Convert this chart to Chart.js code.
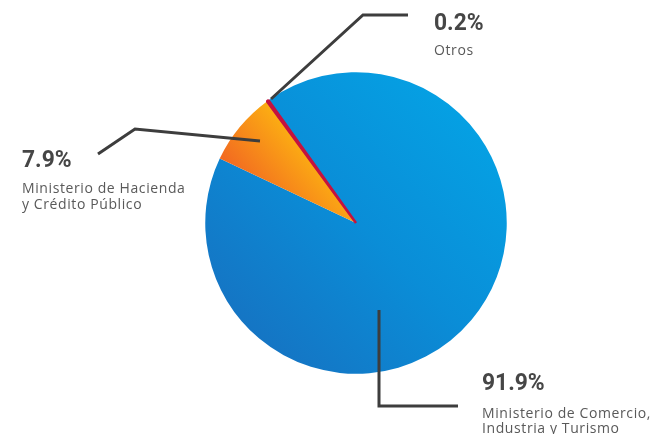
<!DOCTYPE html>
<html>
<head>
<meta charset="utf-8">
<script src="https://cdn.jsdelivr.net/npm/chart.js@4/dist/chart.umd.min.js"></script>
<style>
  html, body { margin: 0; padding: 0; background: #fff; }
  #wrap { width: 667px; height: 434px; position: relative; }
</style>
</head>
<body>
<div id="wrap"><canvas id="chart"></canvas></div>
<script>
// Data
const labels = [
    ['Ministerio de Comercio,', 'Industria y Turismo'],
    ['Ministerio de Hacienda', 'y Crédito Público'],
    ['Otros']
];
const values = [91.9, 7.9, 0.2];
const shares = ['91.9%', '7.9%', '0.2%'];

const INK = '#3d3d3d';

function sliceFill(ctx) {
    const area = ctx.chart.chartArea;
    if (!area) return '#0a8fd8';
    const c = ctx.chart.ctx;
    if (ctx.dataIndex === 0) {
        const g = c.createLinearGradient(area.right, area.top, area.left, area.bottom);
        g.addColorStop(0, '#03a8e8');
        g.addColorStop(0.5, '#0a8dd7');
        g.addColorStop(1, '#196bbc');
        return g;
    }
    if (ctx.dataIndex === 1) {
        const cx = (area.left + area.right) / 2, cy = (area.top + area.bottom) / 2;
        const g = c.createLinearGradient(cx - 60, cy - 120, cx - 130, cy - 60);
        g.addColorStop(0, '#ffc20e');
        g.addColorStop(1, '#f26a21');
        return g;
    }
    return '#c4123f';
}

// leader lines + text
const callouts = {
    id: 'callouts',
    afterDraw(chart) {
        const c = chart.ctx;
        const lines = [
            [[379, 310], [379, 406], [458, 406]],
            [[260, 141], [135, 129], [98, 154]],
            [[271, 99], [363, 15], [408, 15]]
        ];
        // [x, number baseline, first label baseline, line step]
        const textPos = [[482, 390, 418, 15], [22, 167, 193, 16], [434, 30, 55, 16]];
        c.save();
        c.strokeStyle = INK;
        c.lineWidth = 3;
        c.lineJoin = 'miter';
        lines.forEach(pts => {
            c.beginPath();
            pts.forEach((p, i) => i ? c.lineTo(p[0], p[1]) : c.moveTo(p[0], p[1]));
            c.stroke();
        });
        c.textBaseline = 'alphabetic';
        c.textAlign = 'left';
        values.forEach((v, i) => {
            const [x, y, ly, step] = textPos[i];
            c.save();
            c.translate(x, y);
            c.scale(0.95, 1);
            c.fillStyle = '#464646';
            c.font = 'bold 24px Roboto, sans-serif';
            c.fillText(shares[i], 0, 0);
            c.restore();
            c.fillStyle = '#595959';
            c.font = '14px "Open Sans", sans-serif';
            c.letterSpacing = '0.6px';
            labels[i].forEach((t, j) => c.fillText(t, x, ly + j * step));
            c.letterSpacing = '0px';
        });
        c.restore();
    }
};

new Chart(document.getElementById('chart'), {
    type: 'pie',
    data: {
        labels: labels.map(l => l.join(' ')),
        datasets: [{
            data: values,
            backgroundColor: sliceFill,
            borderColor: ['#0a8dd7', '#f8a01a', '#c4123f'],
            borderWidth: [0, 0, 2.5]
        }]
    },
    options: {
        responsive: true,
        maintainAspectRatio: false,
        animation: false,
        rotation: -35.5,
        layout: { padding: { top: 71, bottom: 59, left: 204, right: 159 } },
        plugins: {
            legend: { display: false },
            tooltip: { enabled: false }
        }
    },
    plugins: [callouts]
});
</script>
</body>
</html>
